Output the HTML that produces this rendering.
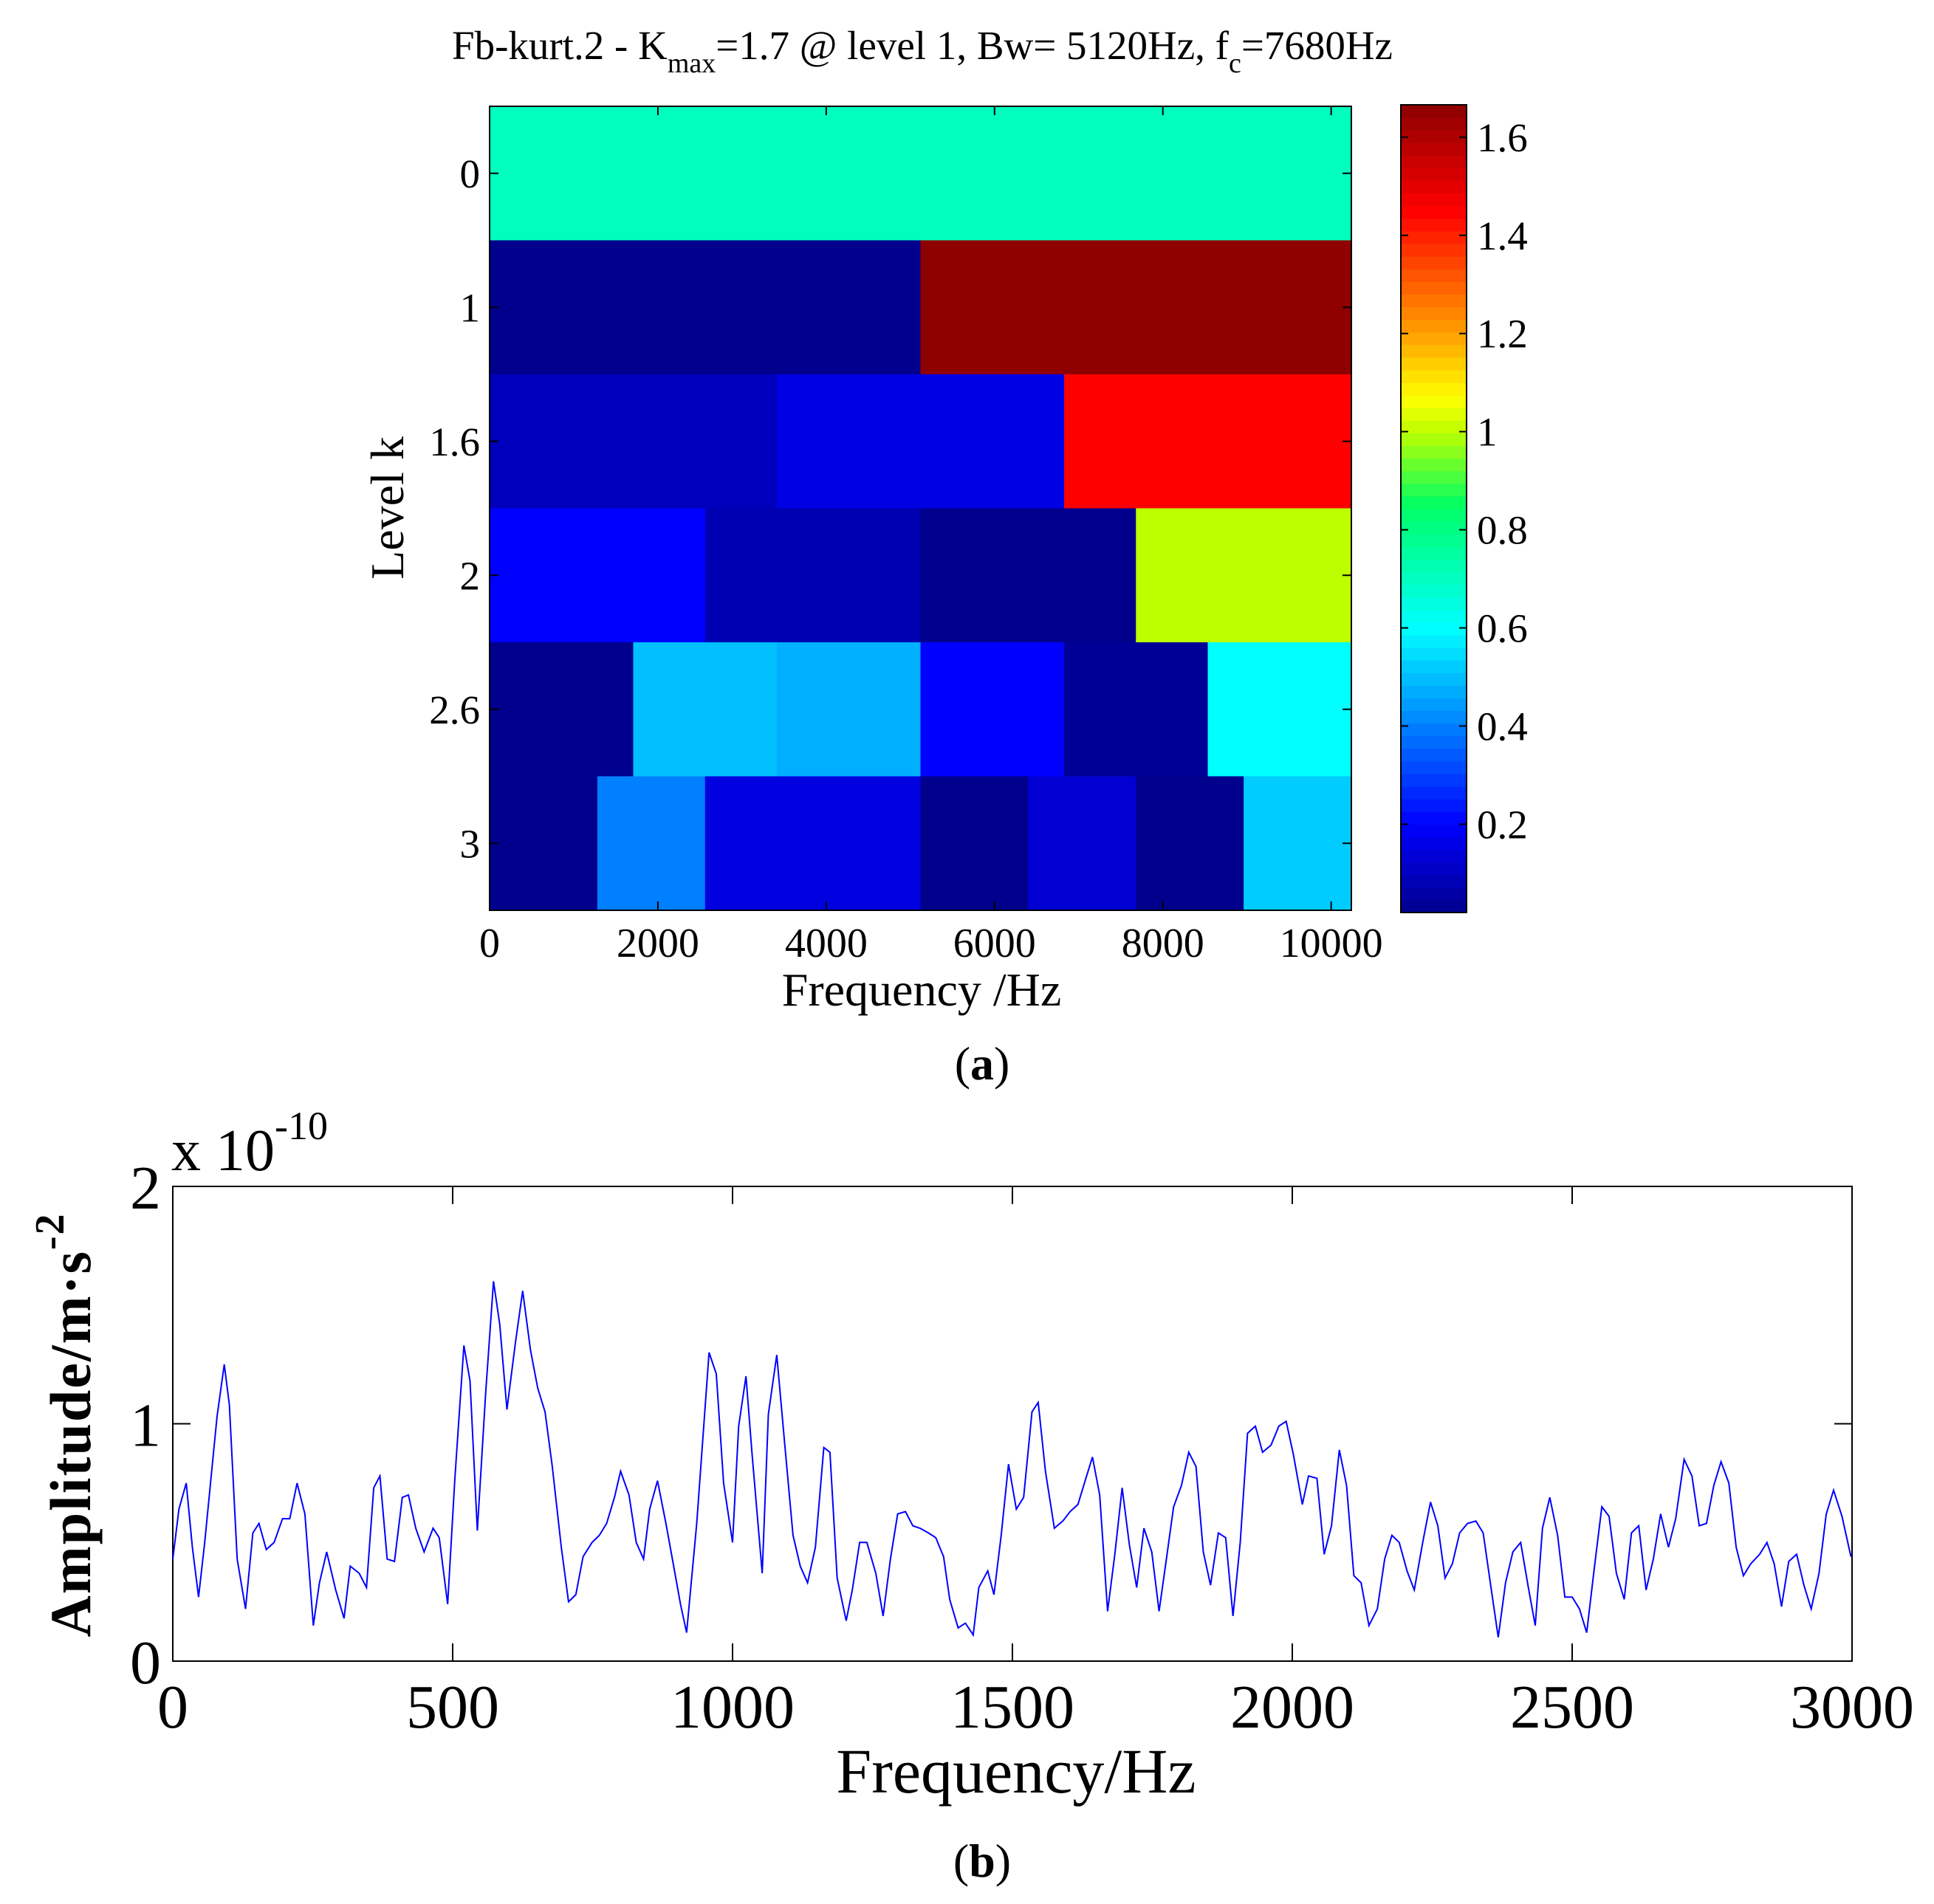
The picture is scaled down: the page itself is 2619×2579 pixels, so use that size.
<!DOCTYPE html>
<html><head><meta charset="utf-8"><style>
html,body{margin:0;padding:0;background:#fff}
svg{display:block;font-family:"Liberation Serif",serif}
</style></head><body>
<svg id="fig" width="2619" height="2579" viewBox="0 0 2619 2579" xmlns="http://www.w3.org/2000/svg">
<text x="1249" y="80" font-size="55" text-anchor="middle">Fb-kurt.2 - K<tspan font-size="38" dy="18">max</tspan><tspan dy="-18">=1.7 @ level 1, Bw= 5120Hz, f</tspan><tspan font-size="38" dy="18">c</tspan><tspan dy="-18">=7680Hz</tspan></text>
<g id="heat"></g>
<g id="cbar"></g>
<text x="1248" y="1362" font-size="64" text-anchor="middle">Frequency /Hz</text>
<text transform="translate(546,688) rotate(-90)" font-size="64" text-anchor="middle">Level k</text>
<text x="1330" y="1462" font-size="64" text-anchor="middle">(<tspan font-weight="bold">a</tspan>)</text>
<g id="spec"></g>
<text x="232" y="1585" font-size="80">x 10<tspan font-size="54" dy="-42">-10</tspan></text>
<text x="1376" y="2428" font-size="86" text-anchor="middle">Frequency/Hz</text>
<text transform="translate(122,1930) rotate(-90)" font-size="78" font-weight="bold" text-anchor="middle" letter-spacing="2">Amplitude/m·s<tspan font-size="56" dy="-36">-2</tspan></text>
<text x="1330" y="2542" font-size="64" text-anchor="middle">(<tspan font-weight="bold">b</tspan>)</text>
</svg>
<script>
// ---- heatmap data ----
const levelLabels = ["0","1","1.6","2","2.6","3"];
const row0 = [0.705];
const row1 = [0.02, 1.66];
const row16 = [0.094, 0.157, 1.45];
const row2 = [0.2, 0.08, 0.02, 1.0];
const row26 = [0.02, 0.5, 0.475, 0.2, 0.035, 0.6];
const row3 = [0.02, 0.4, 0.153, 0.153, 0.02, 0.13, 0.02, 0.52];
const heatXTicks = [0, 2000, 4000, 6000, 8000, 10000];
const cbarTicks = [0.2, 0.4, 0.6, 0.8, 1, 1.2, 1.4, 1.6];
// ---- spectrum data ----
const specFreq = [0,11,24,35,46,57,79,92,101,115,130,143,154,167,181,196,209,222,236,251,262,275,291,306,317,333,346,359,370,383,396,410,421,434,449,465,476,491,504,520,531,544,559,573,584,597,612,625,639,652,665,678,694,707,720,733,749,762,775,789,800,815,828,841,852,866,881,894,907,918,936,958,971,984,1000,1011,1024,1035,1053,1064,1079,1093,1108,1121,1134,1148,1163,1174,1187,1203,1214,1227,1240,1256,1269,1282,1295,1309,1322,1335,1350,1363,1377,1388,1403,1416,1430,1440,1456,1467,1480,1493,1507,1520,1535,1546,1559,1575,1590,1603,1617,1630,1643,1656,1670,1683,1696,1709,1722,1735,1749,1762,1775,1788,1802,1815,1828,1841,1854,1868,1881,1894,1907,1920,1934,1947,1962,1976,1989,2002,2018,2029,2044,2057,2070,2084,2097,2110,2123,2137,2152,2165,2178,2191,2205,2218,2233,2247,2260,2273,2286,2299,2313,2328,2341,2355,2368,2381,2394,2408,2421,2434,2447,2460,2474,2487,2500,2513,2526,2540,2553,2566,2579,2593,2606,2619,2632,2645,2658,2672,2685,2700,2714,2727,2740,2753,2766,2780,2793,2806,2819,2835,2848,2861,2874,2887,2901,2914,2927,2941,2954,2967,2982,2998];
const specAmp = [0.43,0.64,0.75,0.48,0.27,0.5,1.03,1.25,1.08,0.43,0.22,0.54,0.58,0.47,0.5,0.6,0.6,0.75,0.62,0.15,0.33,0.46,0.3,0.18,0.4,0.37,0.31,0.73,0.78,0.43,0.42,0.69,0.7,0.56,0.46,0.56,0.52,0.24,0.77,1.33,1.18,0.55,1.13,1.6,1.42,1.06,1.34,1.56,1.31,1.15,1.05,0.82,0.48,0.25,0.28,0.44,0.5,0.53,0.58,0.69,0.8,0.7,0.5,0.43,0.64,0.76,0.58,0.41,0.24,0.12,0.58,1.3,1.21,0.75,0.5,0.99,1.2,0.87,0.37,1.04,1.29,0.92,0.53,0.4,0.33,0.48,0.9,0.88,0.35,0.17,0.3,0.5,0.5,0.37,0.19,0.43,0.62,0.63,0.57,0.56,0.54,0.52,0.44,0.26,0.14,0.16,0.11,0.31,0.38,0.28,0.53,0.83,0.64,0.69,1.05,1.09,0.8,0.56,0.59,0.63,0.66,0.76,0.86,0.7,0.21,0.45,0.73,0.49,0.31,0.56,0.46,0.21,0.43,0.65,0.74,0.88,0.82,0.46,0.32,0.54,0.52,0.19,0.5,0.96,0.99,0.88,0.91,0.99,1.01,0.87,0.66,0.78,0.77,0.45,0.57,0.89,0.74,0.36,0.33,0.15,0.22,0.43,0.53,0.5,0.38,0.3,0.5,0.67,0.57,0.35,0.41,0.54,0.58,0.59,0.54,0.31,0.1,0.33,0.46,0.5,0.32,0.15,0.56,0.69,0.53,0.27,0.27,0.22,0.12,0.4,0.65,0.61,0.37,0.26,0.54,0.57,0.3,0.43,0.62,0.48,0.6,0.85,0.78,0.57,0.58,0.74,0.84,0.75,0.48,0.36,0.41,0.45,0.5,0.41,0.23,0.42,0.45,0.32,0.22,0.37,0.62,0.72,0.61,0.44];
const specXTicks = [0,500,1000,1500,2000,2500,3000];
const specYTicks = [0,1,2];

const NS = "http://www.w3.org/2000/svg";
function mk(tag, attrs, parent){const e=document.createElementNS(NS,tag);for(const k in attrs)e.setAttribute(k,attrs[k]);parent.appendChild(e);return e;}
// colormap (style) matching reference colorbar
const CM=[[0,0,0,128],[0.2,0,0,255],[0.6,0,255,255],[0.85,0,255,100],[1.0,190,255,0],[1.07,255,255,0],[1.2,255,160,0],[1.45,255,0,0],[1.666,140,0,0]];
function cmap(v){
  if(v<=CM[0][0])return `rgb(${CM[0][1]},${CM[0][2]},${CM[0][3]})`;
  for(let i=1;i<CM.length;i++){if(v<=CM[i][0]){const a=CM[i-1],b=CM[i],t=(v-a[0])/(b[0]-a[0]);
    return `rgb(${Math.round(a[1]+(b[1]-a[1])*t)},${Math.round(a[2]+(b[2]-a[2])*t)},${Math.round(a[3]+(b[3]-a[3])*t)})`;}}
  const l=CM[CM.length-1];return `rgb(${l[1]},${l[2]},${l[3]})`;}

const HX0=663,HX1=1830,HY0=144,HY1=1233,FMAX=10240,CMIN=0.0,CMAX=1.666;
const hx=f=>HX0+(HX1-HX0)*f/FMAX;
const rowH=(HY1-HY0)/levelLabels.length;
const hy=i=>HY0+rowH*i;
const rows=[row0,row1,row16,row2,row26,row3];
const heat=document.getElementById('heat');
rows.forEach((row,i)=>{
  row.forEach((v,j)=>{
    const w=FMAX/row.length;
    const x0=hx(j*w), x1=hx((j+1)*w);
    const r=mk('rect',{x:x0,y:hy(i),width:x1-x0+0.5,height:rowH+0.5,fill:cmap(v)},heat);
    
    
  });
  const yc=hy(i)+rowH/2;
  mk('line',{x1:HX0,x2:HX0+12,y1:yc,y2:yc,stroke:'#000','stroke-width':2},heat);
  mk('line',{x1:HX1,x2:HX1-12,y1:yc,y2:yc,stroke:'#000','stroke-width':2},heat);
  const t=mk('text',{x:650,y:yc+19,'font-size':55,'text-anchor':'end'},heat);t.textContent=levelLabels[i];
  
  
});
heatXTicks.forEach(f=>{
  const x=hx(f);
  mk('line',{x1:x,x2:x,y1:HY1,y2:HY1-12,stroke:'#000','stroke-width':2},heat);
  mk('line',{x1:x,x2:x,y1:HY0,y2:HY0+12,stroke:'#000','stroke-width':2},heat);
  const t=mk('text',{x:x,y:1296,'font-size':56,'text-anchor':'middle'},heat);t.textContent=String(f);
  
  
});
mk('rect',{x:HX0,y:HY0,width:HX1-HX0,height:HY1-HY0,fill:'none',stroke:'#000','stroke-width':2},heat);

const CX0=1897,CX1=1986,CY0=142,CY1=1236,CBMIN=0.02;
const cy=v=>CY1-(CY1-CY0)*(v-CBMIN)/(CMAX-CBMIN);
const cb=document.getElementById('cbar');
for(let k=0;k<64;k++){
  const y0=CY1-(CY1-CY0)*(k+1)/64;
  mk('rect',{x:CX0,y:y0,width:CX1-CX0,height:(CY1-CY0)/64+0.6,fill:cmap(CBMIN+(CMAX-CBMIN)*(k+0.5)/64)},cb);
}
cbarTicks.forEach(v=>{
  const y=cy(v);
  mk('line',{x1:CX0,x2:CX0+10,y1:y,y2:y,stroke:'#000','stroke-width':2},cb);
  mk('line',{x1:CX1,x2:CX1-10,y1:y,y2:y,stroke:'#000','stroke-width':2},cb);
  const t=mk('text',{x:2000,y:y+19,'font-size':55},cb);t.textContent=String(v);
  
  
});
mk('rect',{x:CX0,y:CY0,width:CX1-CX0,height:CY1-CY0,fill:'none',stroke:'#000','stroke-width':2},cb);

const SX0=234,SX1=2508,SY0=1607,SY1=2250,XMAX=3000,YMAX=2;
const sx=f=>SX0+(SX1-SX0)*f/XMAX;
const sy=v=>SY1-(SY1-SY0)*v/YMAX;
const sp=document.getElementById('spec');
mk('rect',{x:SX0,y:SY0,width:SX1-SX0,height:SY1-SY0,fill:'#fff',stroke:'#000','stroke-width':2},sp);
specXTicks.forEach(f=>{
  const x=sx(f);
  mk('line',{x1:x,x2:x,y1:SY1,y2:SY1-24,stroke:'#000','stroke-width':2},sp);
  mk('line',{x1:x,x2:x,y1:SY0,y2:SY0+24,stroke:'#000','stroke-width':2},sp);
  const t=mk('text',{x:x,y:2340,'font-size':84,'text-anchor':'middle'},sp);t.textContent=String(f);
  
  
});
specYTicks.forEach(v=>{
  const y=sy(v);
  mk('line',{x1:SX0,x2:SX0+24,y1:y,y2:y,stroke:'#000','stroke-width':2},sp);
  mk('line',{x1:SX1,x2:SX1-24,y1:y,y2:y,stroke:'#000','stroke-width':2},sp);
  const t=mk('text',{x:218,y:y+30,'font-size':84,'text-anchor':'end'},sp);t.textContent=String(v);
  
  
});
const pts=specFreq.map((f,i)=>sx(f).toFixed(1)+','+sy(specAmp[i]).toFixed(1)).join(' ');
const pl=mk('polyline',{points:pts,fill:'none',stroke:'#0000ff','stroke-width':2},sp);


</script>
</body></html>
